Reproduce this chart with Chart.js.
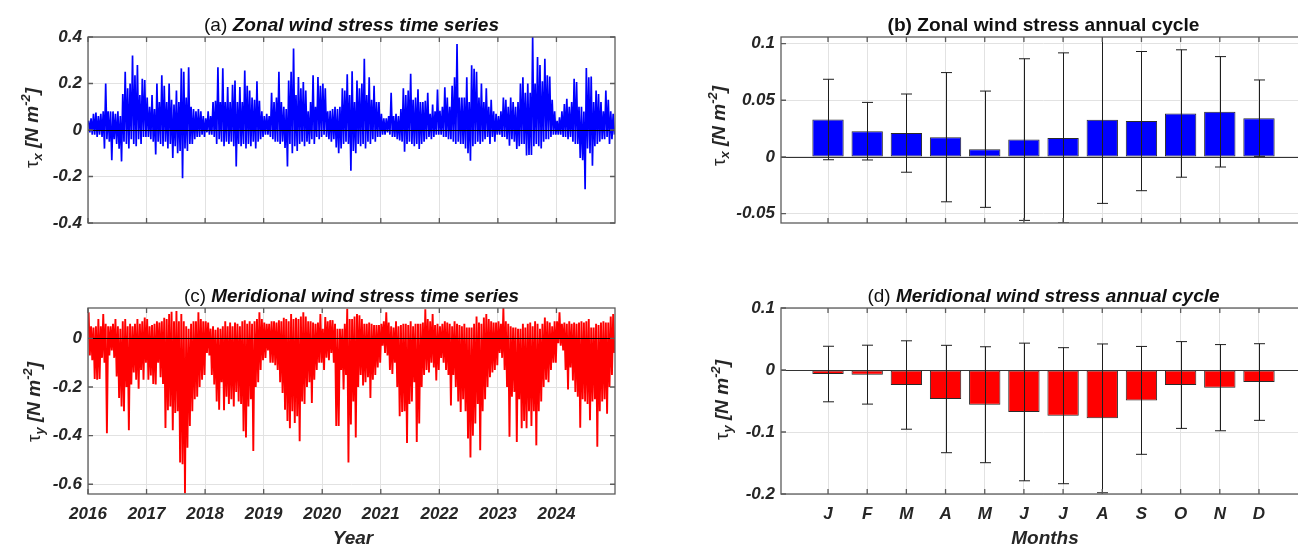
<!DOCTYPE html>
<html>
<head>
<meta charset="utf-8">
<script src="https://cdn.jsdelivr.net/npm/chart.js@4.4.1/dist/chart.umd.min.js"></script>
<style>
    html, body { margin: 0; padding: 0; background: #fff; }
    #wrap { position: relative; width: 1298px; height: 546px; overflow: hidden; }
    #wrap canvas { position: absolute; left: 0; top: 0; }
</style>
</head>
<body>
<div id="wrap">
    <canvas id="panel-a" width="1298" height="546"></canvas>
    <canvas id="panel-b" width="1340" height="546"></canvas>
    <canvas id="panel-c" width="1298" height="546"></canvas>
    <canvas id="panel-d" width="1340" height="546"></canvas>
</div>
<script>
// ── Data ──────────────────────────────────────────────────────────────────────
const years = [2016, 2017, 2018, 2019, 2020, 2021, 2022, 2023, 2024];
const binsPerYear = 24; // half-month bins, each with an upper and lower excursion

// zonal stress, upper / lower excursion per half-month (N m-2)
const tauxHi = [
    0.04,0.05,0.07,0.075,0.06,0.07,0.08,0.2,0.08,0.08,0.08,0.07,0.08,0.06,0.155,0.25,0.18,0.2,0.32,0.235,0.28,0.15,0.22,0.215,      // 2016
    0.14,0.1,0.15,0.09,0.2,0.12,0.235,0.19,0.12,0.2,0.13,0.11,0.17,0.12,0.265,0.25,0.14,0.27,0.1,0.09,0.08,0.09,0.08,0.06,          // 2017
    0.05,0.08,0.06,0.12,0.126,0.27,0.12,0.265,0.12,0.185,0.12,0.195,0.213,0.12,0.185,0.12,0.256,0.19,0.17,0.14,0.13,0.21,0.126,0.08, // 2018
    0.06,0.07,0.06,0.16,0.12,0.14,0.25,0.12,0.1,0.09,0.213,0.25,0.35,0.15,0.228,0.18,0.206,0.17,0.08,0.12,0.235,0.1,0.228,0.19,     // 2019
    0.2,0.18,0.08,0.083,0.09,0.1,0.09,0.1,0.18,0.17,0.24,0.15,0.253,0.12,0.213,0.18,0.2,0.306,0.15,0.227,0.13,0.19,0.12,0.12,        // 2020
    0.07,0.05,0.05,0.06,0.16,0.06,0.07,0.06,0.09,0.18,0.15,0.17,0.242,0.13,0.14,0.175,0.12,0.12,0.126,0.16,0.07,0.11,0.08,0.174,     // 2021
    0.083,0.1,0.184,0.14,0.1,0.19,0.227,0.37,0.14,0.14,0.14,0.227,0.12,0.278,0.263,0.25,0.14,0.2,0.12,0.18,0.1,0.13,0.08,0.07,       // 2022
    0.06,0.08,0.14,0.13,0.1,0.14,0.12,0.1,0.12,0.2,0.227,0.16,0.2,0.16,0.4,0.2,0.314,0.28,0.21,0.306,0.235,0.23,0.13,0.08,           // 2023
    0.04,0.055,0.08,0.112,0.134,0.1,0.12,0.22,0.206,0.1,0.1,0.08,0.267,0.227,0.23,0.12,0.17,0.155,0.12,0.08,0.17,0.13,0.08,0.07      // 2024
];
const tauxLo = [
    -0.01,-0.02,-0.02,-0.03,-0.02,-0.03,-0.08,-0.04,-0.05,-0.13,-0.04,-0.06,-0.08,-0.135,-0.05,-0.06,-0.08,-0.04,-0.06,-0.07,-0.04,-0.06,-0.03,-0.03,
    -0.03,-0.04,-0.05,-0.105,-0.05,-0.06,-0.07,-0.05,-0.08,-0.06,-0.12,-0.07,-0.1,-0.09,-0.207,-0.08,-0.09,-0.06,-0.06,-0.04,-0.03,-0.03,-0.02,-0.03,
    -0.01,-0.02,-0.02,-0.03,-0.06,-0.04,-0.05,-0.07,-0.05,-0.06,-0.05,-0.07,-0.157,-0.06,-0.07,-0.06,-0.08,-0.06,-0.07,-0.05,-0.08,-0.05,-0.04,-0.03,
    -0.02,-0.02,-0.03,-0.04,-0.05,-0.05,-0.06,-0.05,-0.077,-0.157,-0.06,-0.1,-0.07,-0.09,-0.06,-0.05,-0.07,-0.05,-0.06,-0.04,-0.06,-0.03,-0.04,-0.03,
    -0.02,-0.03,-0.04,-0.05,-0.04,-0.075,-0.1,-0.08,-0.06,-0.05,-0.06,-0.175,-0.09,-0.1,-0.06,-0.07,-0.06,-0.08,-0.05,-0.06,-0.04,-0.05,-0.03,-0.03,
    -0.02,-0.02,-0.01,-0.02,-0.03,-0.03,-0.04,-0.045,-0.05,-0.093,-0.06,-0.05,-0.06,-0.07,-0.06,-0.082,-0.06,-0.05,-0.04,-0.03,-0.04,-0.03,-0.02,-0.02,
    -0.02,-0.03,-0.03,-0.04,-0.04,-0.05,-0.06,-0.05,-0.06,-0.06,-0.08,-0.1,-0.132,-0.07,-0.06,-0.05,-0.06,-0.05,-0.04,-0.03,-0.06,-0.03,-0.05,-0.02,
    -0.02,-0.03,-0.03,-0.04,-0.068,-0.04,-0.05,-0.082,-0.07,-0.06,-0.06,-0.11,-0.107,-0.107,-0.07,-0.06,-0.07,-0.08,-0.05,-0.04,-0.04,-0.03,-0.02,-0.02,
    -0.02,-0.02,-0.03,-0.03,-0.04,-0.03,-0.05,-0.06,-0.06,-0.12,-0.13,-0.255,-0.08,-0.1,-0.154,-0.07,-0.06,-0.05,-0.04,-0.04,-0.03,-0.06,-0.04,-0.02
];

// meridional stress, upper / lower excursion per half-month (N m-2)
const tauyHi = [
    0.107,0.05,0.045,0.05,0.08,0.05,0.1,0.06,0.05,0.05,0.06,0.08,0.05,0.04,0.07,0.08,0.05,0.06,0.05,0.06,0.08,0.06,0.07,0.086,
    0.08,0.05,0.055,0.06,0.07,0.065,0.07,0.085,0.08,0.1,0.11,0.07,0.113,0.07,0.1,0.07,0.05,0.04,0.06,0.07,0.07,0.107,0.08,0.07,
    0.07,0.065,0.04,0.05,0.035,0.045,0.04,0.05,0.07,0.05,0.065,0.05,0.065,0.06,0.05,0.07,0.075,0.06,0.07,0.06,0.07,0.08,0.107,0.08,
    0.065,0.06,0.06,0.07,0.07,0.065,0.075,0.07,0.085,0.08,0.07,0.1,0.08,0.085,0.08,0.09,0.107,0.09,0.07,0.07,0.065,0.06,0.065,0.1,
    0.04,0.088,0.07,0.075,0.075,0.06,0.04,0.04,0.04,0.06,0.122,0.08,0.08,0.09,0.1,0.095,0.08,0.06,0.06,0.065,0.06,0.055,0.055,0.055,
    0.06,0.07,0.107,0.065,0.05,0.045,0.07,0.05,0.055,0.06,0.06,0.055,0.07,0.05,0.06,0.06,0.06,0.065,0.12,0.08,0.07,0.1,0.055,0.06,
    0.05,0.06,0.07,0.065,0.06,0.05,0.07,0.06,0.055,0.05,0.06,0.045,0.045,0.045,0.06,0.09,0.065,0.06,0.086,0.1,0.08,0.07,0.065,0.065,
    0.07,0.06,0.125,0.07,0.06,0.05,0.045,0.045,0.04,0.04,0.06,0.045,0.06,0.065,0.05,0.07,0.06,0.04,0.06,0.086,0.07,0.065,0.05,0.07,
    0.07,0.107,0.06,0.065,0.06,0.07,0.06,0.065,0.06,0.065,0.07,0.065,0.07,0.08,0.045,0.045,0.06,0.055,0.065,0.07,0.065,0.065,0.09,0.1
];
const tauyLo = [
    -0.07,-0.09,-0.167,-0.17,-0.167,-0.08,-0.1,-0.39,-0.07,-0.05,-0.08,-0.157,-0.245,-0.28,-0.3,-0.2,-0.378,-0.19,-0.14,-0.17,-0.207,-0.13,-0.17,-0.1,
    -0.17,-0.153,-0.187,-0.19,-0.1,-0.16,-0.187,-0.368,-0.296,-0.28,-0.378,-0.307,-0.3,-0.51,-0.518,-0.637,-0.45,-0.36,-0.3,-0.25,-0.24,-0.2,-0.17,-0.15,
    -0.06,-0.07,-0.15,-0.19,-0.26,-0.293,-0.18,-0.296,-0.24,-0.27,-0.25,-0.28,-0.22,-0.26,-0.27,-0.382,-0.408,-0.28,-0.25,-0.463,-0.2,-0.18,-0.13,-0.09,
    -0.08,-0.05,-0.1,-0.1,-0.11,-0.13,-0.18,-0.225,-0.293,-0.34,-0.37,-0.3,-0.348,-0.32,-0.423,-0.26,-0.27,-0.2,-0.18,-0.266,-0.17,-0.13,-0.1,-0.1,
    -0.13,-0.08,-0.09,-0.06,-0.1,-0.36,-0.36,-0.13,-0.21,-0.15,-0.51,-0.354,-0.26,-0.408,-0.2,-0.15,-0.194,-0.18,-0.16,-0.245,-0.17,-0.15,-0.12,-0.1,
    -0.03,-0.06,-0.07,-0.13,-0.146,-0.1,-0.2,-0.32,-0.303,-0.3,-0.43,-0.27,-0.26,-0.18,-0.426,-0.35,-0.2,-0.15,-0.13,-0.14,-0.1,-0.12,-0.173,-0.13,
    -0.08,-0.1,-0.13,-0.15,-0.276,-0.15,-0.2,-0.26,-0.303,-0.25,-0.3,-0.412,-0.49,-0.4,-0.35,-0.27,-0.46,-0.3,-0.25,-0.2,-0.16,-0.14,-0.13,-0.11,
    -0.06,-0.08,-0.13,-0.2,-0.405,-0.24,-0.22,-0.426,-0.25,-0.37,-0.34,-0.37,-0.3,-0.36,-0.3,-0.44,-0.3,-0.26,-0.2,-0.17,-0.18,-0.13,-0.1,-0.1,
    -0.02,-0.03,-0.05,-0.13,-0.21,-0.12,-0.173,-0.22,-0.24,-0.367,-0.25,-0.26,-0.27,-0.337,-0.26,-0.25,-0.446,-0.3,-0.26,-0.25,-0.31,-0.2,-0.15,-0.06
];

// monthly climatology: mean and standard deviation
const months = ['J', 'F', 'M', 'A', 'M', 'J', 'J', 'A', 'S', 'O', 'N', 'D'];
const monthPos = [1, 2, 3, 4, 5, 6, 7, 8, 9, 10, 11, 12];
const tauxMean = [0.033, 0.0227, 0.021, 0.0174, 0.0068, 0.0153, 0.0168, 0.0327, 0.0316, 0.0383, 0.0398, 0.0342];
const tauxStd  = [0.0355, 0.0254, 0.0345, 0.057, 0.0513, 0.0713, 0.075, 0.0737, 0.0614, 0.0562, 0.0487, 0.0337];
const tauyMean = [-0.0065, -0.0075, -0.0242, -0.0468, -0.056, -0.0677, -0.0737, -0.078, -0.049, -0.0242, -0.0285, -0.0194];
const tauyStd  = [0.0448, 0.0475, 0.0713, 0.0866, 0.0935, 0.111, 0.1097, 0.12, 0.087, 0.070, 0.0695, 0.0618];

// tick labels
const tauxTicks      = [-0.4, -0.2, 0, 0.2, 0.4];
const tauyTicks      = [-0.6, -0.4, -0.2, 0];
const tauxCycleTicks = [-0.05, 0, 0.05, 0.1];
const tauyCycleTicks = [-0.2, -0.1, 0, 0.1];

// ── Helpers ───────────────────────────────────────────────────────────────────
const FAM  = '"Liberation Sans", Arial, Helvetica, sans-serif';
const INK  = '#262626';
const GRID = '#e2e2e2';
const BOX  = '#5c5c5c';

function toSeries(hi, lo) {
    const pts = [];
    hi.forEach((h, i) => {
        pts.push({ x: years[0] + (i + 0.25) / binsPerYear, y: h });
        pts.push({ x: years[0] + (i + 0.75) / binsPerYear, y: lo[i] });
    });
    return pts;
}

const tickFont = () => ({ family: FAM, size: 17, style: 'italic', weight: 'bold' });
const fixTicks = (list) => (s) => { s.ticks = list.map(v => ({ value: v })); };

function yScale(min, max, ticks, width) {
    return {
        type: 'linear', min, max,
        afterBuildTicks: fixTicks(ticks),
        afterFit: (s) => { s.width = width; },
        ticks: { font: tickFont(), color: INK, padding: 6, callback: (v) => String(v) },
        grid: { color: GRID, drawTicks: false },
        border: { display: false },
    };
}

function xScale(min, max, ticks, labelFn, height) {
    return {
        type: 'linear', min, max, offset: false,
        afterBuildTicks: fixTicks(ticks),
        afterFit: (s) => { s.height = height; },
        ticks: {
            display: !!labelFn, font: tickFont(), color: INK, padding: 10,
            maxRotation: 0, autoSkip: false,
            callback: (v) => labelFn ? labelFn(v) : '',
        },
        grid: { color: GRID, drawTicks: false, offset: false },
        border: { display: false },
    };
}

// draw a run of differently styled text pieces centred on cx, baseline cy
function drawText(ctx, parts, cx, cy, width) {
    let w = 0;
    parts.forEach(p => { ctx.font = p.f; p.w = ctx.measureText(p.t).width; w += p.w; });
    const k = width ? width / w : 1;
    ctx.save();
    ctx.translate(cx, cy);
    ctx.scale(k, 1);
    ctx.textAlign = 'left';
    ctx.textBaseline = 'alphabetic';
    let x = -w / 2;
    parts.forEach(p => { ctx.font = p.f; ctx.fillText(p.t, x, p.dy || 0); x += p.w; });
    ctx.restore();
}

function yLabel(sub) {
    return [
        { t: '\u03c4', f: `19px ${FAM}` },
        { t: sub, f: `italic bold 13px ${FAM}`, dy: 4 },
        { t: ' [N m', f: `italic bold 19px ${FAM}` },
        { t: '-2', f: `italic bold 13px ${FAM}`, dy: -8 },
        { t: ']', f: `italic bold 19px ${FAM}` },
    ];
}

function title(tag, text, tagFont, textFont) {
    return [
        { t: tag + ' ', f: `${tagFont} 19px ${FAM}` },
        { t: text, f: `${textFont} 19px ${FAM}` },
    ];
}

// ── Decoration plugin: zero line, error bars, box, inward ticks, labels ─────
const decor = {
    id: 'decor',
    afterDatasetsDraw(chart, args, o) {
        const { ctx, chartArea: a, scales: { x, y } } = chart;

        ctx.save();
        ctx.beginPath();
        ctx.rect(a.left, a.top, a.right - a.left, a.bottom - a.top);
        ctx.clip();

        const y0 = Math.round(y.getPixelForValue(0)) + 0.5;
        ctx.strokeStyle = o.zeroColor;
        ctx.lineWidth = 1.2;
        ctx.beginPath();
        ctx.moveTo(a.left, y0);
        ctx.lineTo(a.right, y0);
        ctx.stroke();

        if (o.mean) {
            ctx.strokeStyle = '#1e1e1e';
            ctx.lineWidth = 1;
            ctx.beginPath();
            o.mean.forEach((m, i) => {
                const px = Math.round(x.getPixelForValue(monthPos[i])) + 0.5;
                const top = y.getPixelForValue(m + o.std[i]);
                const bot = y.getPixelForValue(m - o.std[i]);
                ctx.moveTo(px, top); ctx.lineTo(px, bot);
                ctx.moveTo(px - 5.5, top); ctx.lineTo(px + 5.5, top);
                ctx.moveTo(px - 5.5, bot); ctx.lineTo(px + 5.5, bot);
            });
            ctx.stroke();
        }
        ctx.restore();

        // axes box and inward ticks
        ctx.save();
        ctx.strokeStyle = BOX;
        ctx.lineWidth = 1.3;
        ctx.strokeRect(a.left, a.top, a.right - a.left, a.bottom - a.top);
        ctx.beginPath();
        x.ticks.forEach(t => {
            const px = x.getPixelForValue(t.value);
            ctx.moveTo(px, a.bottom); ctx.lineTo(px, a.bottom - 5);
            ctx.moveTo(px, a.top); ctx.lineTo(px, a.top + 5);
        });
        y.ticks.forEach(t => {
            const py = y.getPixelForValue(t.value);
            ctx.moveTo(a.left, py); ctx.lineTo(a.left + 5, py);
            ctx.moveTo(a.right, py); ctx.lineTo(a.right - 5, py);
        });
        ctx.stroke();

        // title
        ctx.fillStyle = '#111';
        drawText(ctx, o.title, (a.left + a.right) / 2, a.top - 6, o.titleWidth);

        // y label (rotated)
        ctx.fillStyle = INK;
        ctx.save();
        ctx.translate(o.yLabelAt[0], o.yLabelAt[1]);
        ctx.rotate(-Math.PI / 2);
        drawText(ctx, o.yLabel, 0, 7);
        ctx.restore();

        // x label
        if (o.xLabel) {
            drawText(ctx, [{ t: o.xLabel, f: `italic bold 19px ${FAM}` }], o.xLabelAt[0], o.xLabelAt[1] + 7);
        }
        ctx.restore();
    }
};

function baseOptions(padding, scales, deco) {
    return {
        responsive: false,
        animation: false,
        devicePixelRatio: 1,
        events: [],
        layout: { padding },
        plugins: { legend: { display: false }, tooltip: { enabled: false }, decor: deco },
        scales,
    };
}

// ── Panel (a): zonal time series ─────────────────────────────────────────────
new Chart(document.getElementById('panel-a'), {
    type: 'line',
    data: { datasets: [{ data: toSeries(tauxHi, tauxLo), borderColor: '#0000ff', borderWidth: 1.7, pointRadius: 0, tension: 0 }] },
    options: baseOptions(
        { left: 28, top: 37, right: 683, bottom: 293 },
        { x: xScale(2016, 2025, years, null, 30), y: yScale(-0.4, 0.4, tauxTicks, 60) },
        {
            zeroColor: '#000',
            title: title('(a)', 'Zonal wind stress time series', 'normal', 'italic bold'), titleWidth: 295,
            yLabel: yLabel('x'), yLabelAt: [31, 128],
        }
    ),
    plugins: [decor],
});

// ── Panel (b): zonal annual cycle ────────────────────────────────────────────
new Chart(document.getElementById('panel-b'), {
    type: 'bar',
    data: {
        datasets: [{
            data: monthPos.map((m, i) => ({ x: m, y: tauxMean[i] })),
            backgroundColor: '#0000ff', borderColor: '#2a2a2a', borderWidth: 1, borderSkipped: false,
            barPercentage: 0.8, categoryPercentage: 1,
        }]
    },
    options: baseOptions(
        { left: 711, top: 37, right: 34, bottom: 293 },
        { x: xScale(-0.2, 13.2, monthPos, null, 30), y: yScale(-0.0583, 0.1058, tauxCycleTicks, 70) },
        {
            zeroColor: '#333', mean: tauxMean, std: tauxStd,
            title: title('(b)', 'Zonal wind stress annual cycle', 'bold', 'bold'), titleWidth: 312,
            yLabel: yLabel('x'), yLabelAt: [718, 126],
        }
    ),
    plugins: [decor],
});

// ── Panel (c): meridional time series ───────────────────────────────────────
new Chart(document.getElementById('panel-c'), {
    type: 'line',
    data: { datasets: [{ data: toSeries(tauyHi, tauyLo), borderColor: '#ff0000', borderWidth: 1.9, pointRadius: 0, tension: 0 }] },
    options: baseOptions(
        { left: 28, top: 308, right: 683, bottom: 12 },
        { x: xScale(2016, 2025, years, (v) => String(v), 40), y: yScale(-0.64, 0.125, tauyTicks, 60) },
        {
            zeroColor: '#000',
            title: title('(c)', 'Meridional wind stress time series', 'normal', 'italic bold'), titleWidth: 335,
            yLabel: yLabel('y'), yLabelAt: [33, 402],
            xLabel: 'Year', xLabelAt: [353, 537],
        }
    ),
    plugins: [decor],
});

// ── Panel (d): meridional annual cycle ──────────────────────────────────────
new Chart(document.getElementById('panel-d'), {
    type: 'bar',
    data: {
        datasets: [{
            data: monthPos.map((m, i) => ({ x: m, y: tauyMean[i] })),
            backgroundColor: '#ff0000', borderColor: '#2a2a2a', borderWidth: 1, borderSkipped: false,
            barPercentage: 0.8, categoryPercentage: 1,
        }]
    },
    options: baseOptions(
        { left: 711, top: 308, right: 34, bottom: 12 },
        { x: xScale(-0.2, 13.2, monthPos, (v) => months[v - 1], 40), y: yScale(-0.2, 0.1, tauyCycleTicks, 70) },
        {
            zeroColor: '#333', mean: tauyMean, std: tauyStd,
            title: title('(d)', 'Meridional wind stress annual cycle', 'normal', 'italic bold'), titleWidth: 352,
            yLabel: yLabel('y'), yLabelAt: [721, 400],
            xLabel: 'Months', xLabelAt: [1045, 537],
        }
    ),
    plugins: [decor],
});
</script>
</body>
</html>
